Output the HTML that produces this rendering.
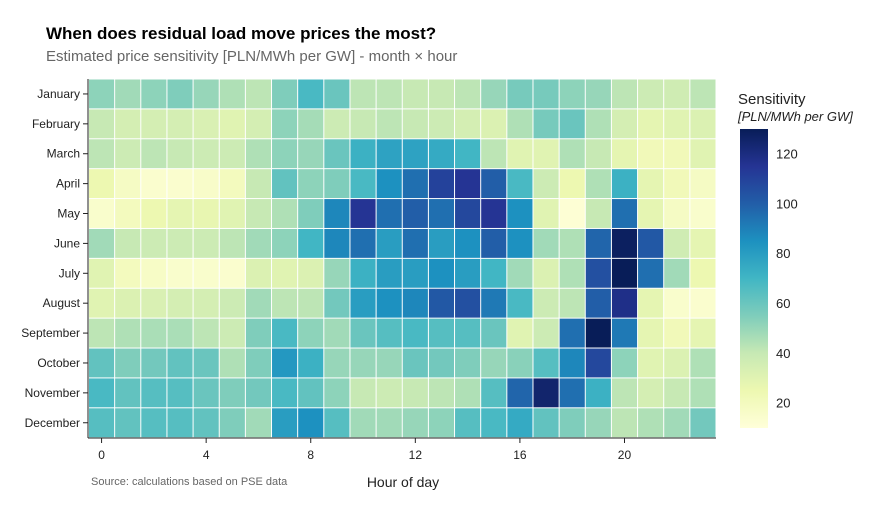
<!DOCTYPE html>
<html><head><meta charset="utf-8"><style>
body{margin:0;background:#fff;font-family:"Liberation Sans",sans-serif}
</style></head><body>
<svg id="s" width="872" height="507" xmlns="http://www.w3.org/2000/svg" font-family="Liberation Sans, sans-serif">
<defs><linearGradient id="cb" x1="0" y1="1" x2="0" y2="0">
<stop offset="0" stop-color="rgb(255,255,217)"/><stop offset="0.125" stop-color="rgb(237,248,177)"/>
<stop offset="0.25" stop-color="rgb(199,233,180)"/><stop offset="0.375" stop-color="rgb(127,205,187)"/>
<stop offset="0.5" stop-color="rgb(65,182,196)"/><stop offset="0.625" stop-color="rgb(29,145,192)"/>
<stop offset="0.75" stop-color="rgb(34,94,168)"/><stop offset="0.875" stop-color="rgb(37,52,148)"/>
<stop offset="1" stop-color="rgb(8,29,88)"/></linearGradient></defs>
<text x="46" y="39" font-size="17" font-weight="bold" fill="#000">When does residual load move prices the most?</text>
<text x="46" y="61" font-size="15" fill="#666">Estimated price sensitivity [PLN/MWh per GW] - month × hour</text>
<g id="hm"></g>
<line x1="88" y1="79" x2="88" y2="438" stroke="#222" stroke-width="1"/>
<line x1="88" y1="438" x2="716" y2="438" stroke="#222" stroke-width="1"/>
<g id="ax" font-size="12" fill="#222"></g>
<text x="403" y="487" font-size="14" text-anchor="middle" fill="#222">Hour of day</text>
<text x="91" y="485" font-size="11" fill="#666">Source: calculations based on PSE data</text>
<text x="738" y="104" font-size="15" fill="#222">Sensitivity</text>
<text x="738" y="121" font-size="13" font-style="italic" fill="#222">[PLN/MWh per GW]</text>
<rect x="740" y="129" width="28" height="299" fill="url(#cb)"/>
<g id="cbt" font-size="13" fill="#222"></g>
</svg>
<script>
var D=[
[52,48,52,55,50,45,42,55,68,60,42,42,40,40,42,50,57,57,52,50,42,38,37,42],
[40,35,35,35,33,30,35,52,47,38,40,42,40,38,35,32,45,57,60,45,35,28,30,32],
[42,38,42,40,38,38,45,52,50,60,72,78,78,75,70,42,30,30,45,40,28,22,22,30],
[25,18,14,14,16,20,40,62,52,55,68,85,95,110,115,100,68,38,25,45,72,28,22,18],
[15,20,25,28,27,30,40,45,55,88,115,95,100,95,108,115,85,30,12,40,95,28,18,15],
[48,40,38,38,38,42,48,52,70,88,95,80,95,80,85,100,85,48,45,98,128,102,37,28],
[30,20,17,15,15,14,32,30,32,50,72,80,80,85,80,70,48,32,45,105,130,95,48,25],
[30,32,33,35,35,38,48,42,42,58,80,85,88,102,105,92,68,38,42,100,118,28,15,14],
[42,45,46,46,42,38,55,68,52,48,60,65,68,65,65,60,30,38,95,130,92,28,22,28],
[62,55,58,62,60,45,55,82,72,50,50,50,60,58,55,50,53,65,88,108,52,30,32,45],
[68,62,65,65,60,55,58,68,62,52,40,38,40,42,45,65,98,125,95,72,42,35,40,45],
[65,62,65,65,62,55,48,80,85,65,48,48,50,52,65,68,75,62,55,50,42,45,48,58]];
var C=[[255,255,217],[237,248,177],[199,233,180],[127,205,187],[65,182,196],[29,145,192],[34,94,168],[37,52,148],[8,29,88]];
function col(v){var t=(v-10)/120*8;t=Math.max(0,Math.min(8,t));var i=Math.min(7,Math.floor(t)),f=t-i;
var c=C[i].map(function(a,k){return Math.round(a+(C[i+1][k]-a)*f)});return "rgb("+c+")";}
var M=["January","February","March","April","May","June","July","August","September","October","November","December"];
var x0=88.5,y0=79,cw=627.5/24,ch=358.7/12,h="",a="";
for(var r=0;r<12;r++){for(var c=0;c<24;c++){h+='<rect x="'+(x0+c*cw+0.5)+'" y="'+(y0+r*ch+0.5)+'" width="'+(cw-1)+'" height="'+(ch-1)+'" fill="'+col(D[r][c])+'"/>';}
var yy=y0+(r+0.5)*ch;a+='<text x="80" y="'+(yy+4)+'" text-anchor="end">'+M[r]+'</text><line x1="83" x2="88" y1="'+yy+'" y2="'+yy+'" stroke="#222"/>';}
for(var k=0;k<=20;k+=4){var xx=x0+(k+0.5)*cw;a+='<line x1="'+xx+'" x2="'+xx+'" y1="438" y2="443" stroke="#222"/><text x="'+xx+'" y="459" text-anchor="middle">'+k+'</text>';}
document.getElementById("hm").innerHTML=h;document.getElementById("ax").innerHTML=a;
var b="";for(var v=20;v<=120;v+=20){var y=428-(v-10)*299/120;b+='<text x="776" y="'+(y+4.5)+'">'+v+'</text>';}
document.getElementById("cbt").innerHTML=b;
</script>
</body></html>
